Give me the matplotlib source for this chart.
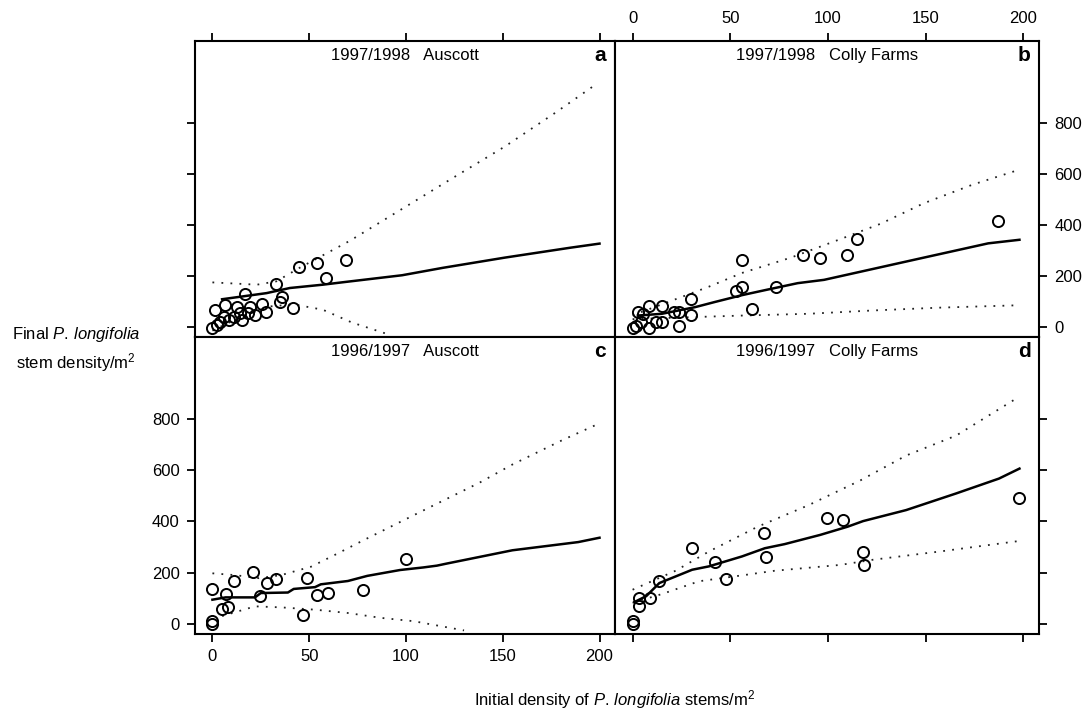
import numpy as np
import matplotlib.pyplot as plt

plt.rcParams['font.family'] = ['Liberation Sans', 'DejaVu Sans']
plt.rcParams['mathtext.fontset'] = 'custom'
plt.rcParams['mathtext.rm'] = 'Liberation Sans'
plt.rcParams['mathtext.it'] = 'Liberation Sans:italic'

# ---- panel a: 1997/1998 Auscott ----
a_x = [69, 58.5, 54, 44.6, 32.6, 35.7, 35, 41.4, 17, 6.7, 1.5, 0, 12.6, 19.5, 25.5,
       27.7, 22, 18.6, 15.2, 11, 5.8, 4, 2.4, 8.4, 14.4]
a_y = [260, 191, 249, 235, 168, 115, 99, 72, 128, 86, 66, -4, 79, 79, 88,
       59, 46, 53, 26, 40, 40, 20, 7, 26, 53]
a_fit_x = [5, 28, 40, 57, 69, 98, 119, 151, 185, 200]
a_fit_y = [108, 132, 152, 165, 176, 202, 231, 271, 310, 326]
a_up_x = [0, 23, 33, 45, 71, 98, 125, 151, 177, 197]
a_up_y = [174, 165, 178, 231, 337, 462, 587, 706, 838, 944]
a_lo_x = [0, 15, 30, 42, 57, 72, 91]
a_lo_y = [-15, 40, 80, 88, 67, 17, -30]

# ---- panel b: 1997/1998 Colly Farms ----
b_x = [187, 115, 109.5, 96, 87, 56, 56, 53, 73.6, 61, 30, 30, 24, 24, 21, 15, 15,
       12, 8.6, 8.6, 5.2, 2.7, 4.4, 1.7, 0]
b_y = [413, 344, 280, 271, 280, 260, 155, 141, 155, 71, 107, 48, 57, 4, 57, 80, 17,
       17, 80, -3, 51, 57, 17, 4, -3]
b_fit_x = [2.7, 15, 32, 42, 56, 68, 84.5, 98, 115, 149, 182, 198]
b_fit_y = [44, 51, 77, 97, 124, 144, 171, 184, 213, 271, 327, 341]
b_up_x = [0, 22, 39, 56, 81, 106.5, 127, 149, 174, 196]
b_up_y = [45, 108, 157, 211, 271, 344, 404, 484, 557, 611]
b_lo_x = [0, 27, 56, 90, 123, 157, 196]
b_lo_y = [30, 37, 44, 51, 64, 75, 84]

# ---- panel c: 1996/1997 Auscott ----
c_x = [0, 0, 0, 5, 7, 8, 11, 21, 24.4, 28, 32.6, 49, 46.7, 54, 59.5, 78, 100]
c_y = [136, 10, 0, 59, 116, 64, 167, 201, 107, 158, 175, 178, 34, 113, 120, 130, 251]
c_fit_x = [0, 6.8, 22, 25, 39, 42, 53, 56, 70, 80, 97, 109, 116, 121, 155, 189, 200]
c_fit_y = [94, 103, 103, 120, 122, 136, 143, 154, 167, 187, 210, 220, 227, 235, 287, 319, 336]
c_up_x = [0, 11.6, 24, 35.5, 51, 63, 78, 95, 112, 138, 155, 181, 198]
c_up_y = [197, 190, 178, 190, 223, 268, 326, 390, 454, 551, 622, 718, 776]
c_lo_x = [5, 22, 35.5, 53, 70, 87, 104, 130]
c_lo_y = [30, 68, 64, 55, 42, 23, 10, -26]

# ---- panel d: 1996/1997 Colly Farms ----
d_x = [198, 99.4, 107.7, 67.3, 68.5, 30.5, 42, 48, 118, 118.6, 13.7, 9, 3.5, 3.5, 0, 0]
d_y = [493, 412, 405, 353, 260, 295, 243, 176, 282, 230, 168, 101, 101, 69, 10, 0]
d_fit_x = [1, 7, 13.7, 30.5, 39, 56, 67.7, 77.8, 96, 110, 118, 140, 165.6, 187.5, 198]
d_fit_y = [85, 108, 159, 211, 224, 263, 295, 311, 347, 379, 401, 444, 509, 567, 606]
d_up_x = [0, 22, 39, 64, 90, 116.6, 140, 165.6, 196]
d_up_y = [133, 207, 282, 379, 463, 560, 657, 735, 878]
d_lo_x = [0, 15, 34, 56, 72.7, 106.5, 123, 157, 197.6]
d_lo_y = [82, 116, 166, 189, 207, 230, 250, 282, 323]

titles = ["1997/1998   Auscott", "1997/1998   Colly Farms",
          "1996/1997   Auscott", "1996/1997   Colly Farms"]
letters = ["a", "b", "c", "d"]
xticks = [0, 50, 100, 150, 200]
yticks = [0, 200, 400, 600, 800]

fig = plt.figure(figsize=(10.92, 7.2), dpi=100)
L, M, R = 195 / 1092, 615 / 1092, 1039 / 1092
T, H, B = 1 - 41 / 720, 1 - 337 / 720, 1 - 634 / 720
boxes = [(L, H, M - L, T - H), (M, H, R - M, T - H),
         (L, B, M - L, H - B), (M, B, R - M, H - B)]

panels = [
    (a_x, a_y, a_fit_x, a_fit_y, a_up_x, a_up_y, a_lo_x, a_lo_y),
    (b_x, b_y, b_fit_x, b_fit_y, b_up_x, b_up_y, b_lo_x, b_lo_y),
    (c_x, c_y, c_fit_x, c_fit_y, c_up_x, c_up_y, c_lo_x, c_lo_y),
    (d_x, d_y, d_fit_x, d_fit_y, d_up_x, d_up_y, d_lo_x, d_lo_y),
]

for i, (box, data) in enumerate(zip(boxes, panels)):
    px, py, fx, fy, ux, uy, lx, ly = data
    ax = fig.add_axes(box)
    # confidence band (sparse dots), fitted curve, observations
    ax.plot(ux, uy, color='#222222', lw=1.3, ls=(0, (1, 4)))
    ax.plot(lx, ly, color='#222222', lw=1.3, ls=(0, (1, 4)))
    ax.plot(fx, fy, color='black', lw=1.8)
    ax.plot(px, py, 'o', mfc='none', mec='black', mew=1.4, ms=8)
    ax.set_xlim(-9, 208)
    ax.set_ylim(-40, 1120)
    for s in ax.spines.values():
        s.set_linewidth(1.5)
    ax.text(0.5, 0.95, titles[i], transform=ax.transAxes, ha='center', va='center',
            fontsize=12)
    ax.text(0.965, 0.95, letters[i], transform=ax.transAxes, ha='center', va='center',
            fontsize=15, fontweight='bold')
    ax.set_xticks(xticks)
    ax.set_yticks(yticks)
    ax.tick_params(direction='out', length=6, width=1.3, labelsize=12, pad=5)
    top_row = i < 2
    left_col = i % 2 == 0
    ax.tick_params(axis='x', top=top_row, bottom=not top_row,
                   labeltop=(i == 1), labelbottom=(i == 2))
    ax.tick_params(axis='y', left=left_col, right=not left_col,
                   labelleft=(i == 2), labelright=(i == 1))

fig.text(0.07, 0.515, "Final $\\it{P.\\,longifolia}$\nstem density/m$^2$",
         ha='center', va='center', fontsize=12, linespacing=1.4)
fig.text(0.563, 0.028, "Initial density of $\\it{P.\\,longifolia}$ stems/m$^2$",
         ha='center', va='center', fontsize=12)

plt.savefig('out.png', dpi=100)
plt.close()
